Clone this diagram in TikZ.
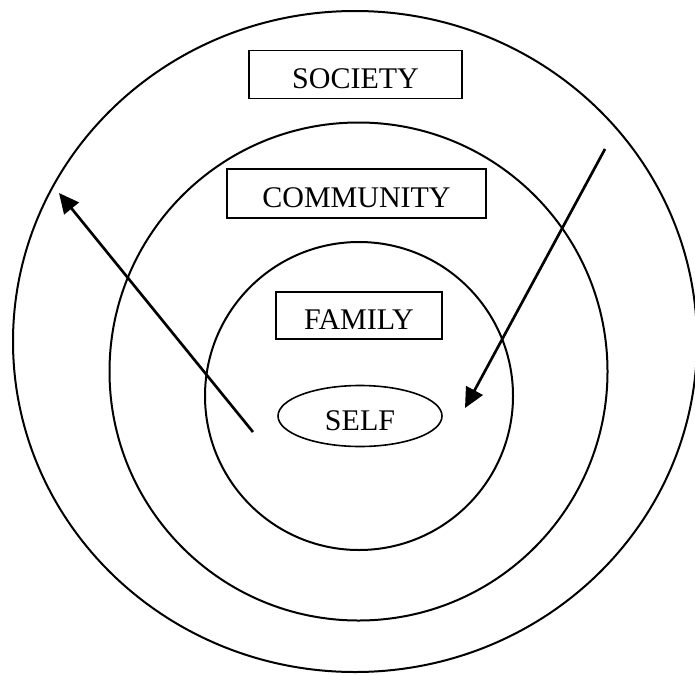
\documentclass[tikz,border=0pt]{standalone}
\usepackage{fontspec}
\setmainfont{Liberation Serif}
\usetikzlibrary{arrows.meta,shapes.geometric}

\tikzset{
  ring/.style={black, line width=1.5pt},
  tagbox/.style={draw=black, line width=1.2pt, rectangle, inner sep=0pt,
    text height=21pt, text depth=0pt, font=\fontsize{22.5}{26}\selectfont},
  selfnode/.style={draw=black, line width=1.2pt, ellipse, inner sep=0pt,
    text height=21pt, text depth=0pt, font=\fontsize{22.5}{26}\selectfont},
  flowarrow/.style={black, line width=2pt, -{Triangle[length=15pt,width=14pt]}}
}

\begin{document}
\begin{tikzpicture}[x=0.75pt,y=-0.75pt]
\useasboundingbox (0,0) rectangle (695,674);

% rings
\draw [ring] (355,341.5) ellipse [x radius=342, y radius=330.5];
\draw [ring] (358.5,371.5) circle [radius=249];
\draw [ring] (359,396) circle [radius=154];

% labels
\node [tagbox, minimum width=159.75pt, minimum height=36pt] (society) at (355.5,74.5) {SOCIETY};
\node [tagbox, minimum width=194.25pt, minimum height=36.75pt] (community) at (356.5,193.5) {COMMUNITY};
\node [tagbox, minimum width=124.5pt, minimum height=35.25pt] (family) at (359,315.5) {FAMILY};
\node [selfnode, minimum width=123pt, minimum height=45.75pt] (self) at (360,416) {SELF};

% arrows
\coordinate (outtail) at (253,432);
\coordinate (outhead) at (59,193);
\coordinate (intail) at (605,149);
\coordinate (inhead) at (465,408);

\draw [flowarrow] (outtail) -- (outhead);
\draw [flowarrow] (intail) -- (inhead);

\end{tikzpicture}
\end{document}
